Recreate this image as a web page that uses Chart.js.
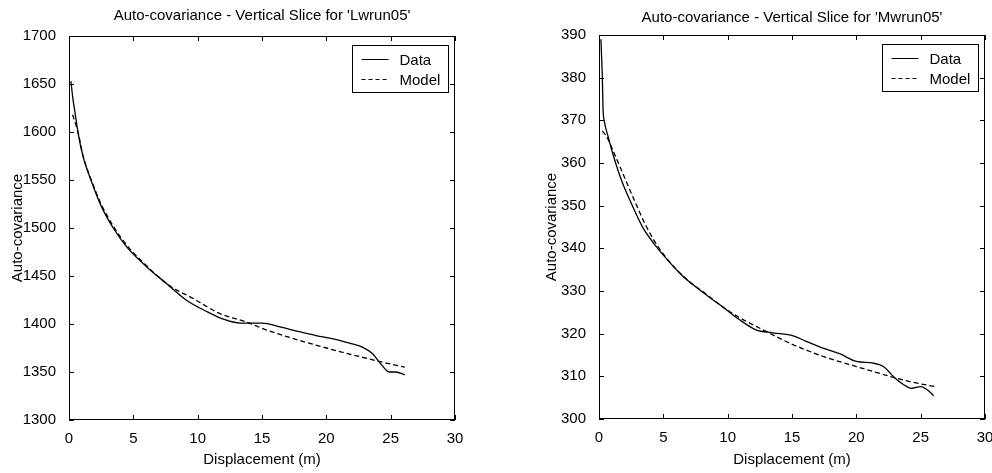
<!DOCTYPE html>
<html>
<head>
<meta charset="utf-8">
<script src="https://cdn.jsdelivr.net/npm/chart.js@4.4.1/dist/chart.umd.min.js"></script>
<style>
  html, body { margin: 0; padding: 0; background: #fff; }
  #wrap { position: relative; width: 992px; height: 473px; overflow: hidden; }
  .box { position: absolute; top: 0; width: 496px; height: 473px; }
  #left { left: 0; }
  #right { left: 496px; }
</style>
</head>
<body>
<div id="wrap">
  <div class="box" id="left"><canvas id="lw" width="496" height="473"></canvas></div>
  <div class="box" id="right"><canvas id="mw" width="496" height="473"></canvas></div>
</div>
<script>
// ---- values ----
const xTickValues = [0, 5, 10, 15, 20, 25, 30];

// 'Lwrun05'
const lwDataX = [0.15, 0.3, 0.47, 0.72, 1.1, 1.76, 2.53, 3.44, 4.5, 6, 7.5, 9.1, 10.7, 12, 13.3, 15, 16.4, 17.9, 19.2, 20.7, 21.8, 22.8, 23.6, 24.2, 24.9, 25.4, 26.1];
const lwDataY = [1653, 1635, 1620, 1598, 1574, 1548, 1522, 1500, 1480, 1460, 1443, 1425, 1413, 1405, 1401, 1401, 1397, 1392, 1388, 1384, 1380, 1376, 1369, 1359, 1350, 1350, 1347];
const lwModelX = [0.28, 0.5, 0.75, 1.1, 1.76, 2.53, 3.44, 4.5, 6, 7.8, 9.6, 11.7, 13.8, 15.3, 17.4, 20, 22.6, 24.1, 26.1];
const lwModelY = [1618, 1609, 1597, 1575, 1549, 1524, 1502, 1482, 1461, 1440, 1427, 1411, 1402, 1394, 1385, 1375, 1366, 1361, 1355];
const lwYTicks = [1300, 1350, 1400, 1450, 1500, 1550, 1600, 1650, 1700];

// 'Mwrun05'
const mwDataX = [0.15, 0.2, 0.26, 0.31, 0.44, 0.7, 1.09, 1.74, 2.5, 3.4, 4.3, 5, 6.5, 8.3, 9.9, 10.9, 12.2, 13.5, 15.1, 16.1, 17.4, 18.7, 20, 21.3, 22.1, 23, 23.5, 24.3, 25, 25.8, 26];
const mwDataY = [389, 385, 380, 373, 369.4, 366.3, 362, 356, 350.6, 344.9, 341, 338.4, 333.5, 329.2, 325.6, 323.3, 320.9, 320.2, 319.5, 318.2, 316.6, 315.3, 313.5, 313.1, 312.3, 309.6, 308.4, 307.2, 307.6, 306.1, 305.4];
const mwModelX = [0.26, 0.57, 1.22, 2, 2.9, 3.68, 4.7, 6.5, 8.3, 9.9, 10.9, 12.75, 14.8, 17.4, 20, 22.6, 24.1, 26.1];
const mwModelY = [367.5, 366.3, 362, 356.5, 350.2, 345.1, 339.9, 333.6, 329.3, 325.7, 323.8, 320.9, 317.8, 314.7, 312.3, 310, 308.8, 307.6];
const mwYTicks = [300, 310, 320, 330, 340, 350, 360, 370, 380, 390];

const seriesLabels = ['Data', 'Model'];

Chart.defaults.font.family = "'Liberation Sans', Arial, Helvetica, sans-serif";
Chart.defaults.font.size = 15;
Chart.defaults.color = '#000';

const toPoints = (xs, ys) => xs.map((x, i) => ({ x: x, y: ys[i] }));

// matlab style box: frame, inward ticks on all sides, boxed legend
const framePlugin = {
  id: 'frame',
  afterDatasetsDraw(chart) {
    const { ctx, chartArea: a, scales: { x, y } } = chart;
    const len = 5;
    ctx.save();
    ctx.strokeStyle = '#000';
    ctx.lineWidth = 1;
    ctx.setLineDash([]);
    ctx.strokeRect(a.left + 0.5, a.top + 0.5, a.right - a.left - 1, a.bottom - a.top - 1);
    ctx.beginPath();
    x.ticks.forEach(t => {
      const px = Math.round(x.getPixelForValue(t.value)) + 0.5;
      ctx.moveTo(px, a.bottom); ctx.lineTo(px, a.bottom - len);
      ctx.moveTo(px, a.top); ctx.lineTo(px, a.top + len);
    });
    y.ticks.forEach(t => {
      const py = Math.round(y.getPixelForValue(t.value)) + 0.5;
      ctx.moveTo(a.left, py); ctx.lineTo(a.left + len, py);
      ctx.moveTo(a.right, py); ctx.lineTo(a.right - len, py);
    });
    ctx.stroke();

    // legend
    const w = 96, h = 47;
    const bx = Math.round(a.right - 7 - w) + 0.5;
    const by = Math.round(a.top + 9) + 0.5;
    ctx.fillStyle = '#fff';
    ctx.fillRect(bx, by, w, h);
    ctx.strokeRect(bx, by, w, h);
    ctx.font = "15px 'Liberation Sans', Arial, sans-serif";
    ctx.fillStyle = '#000';
    ctx.textBaseline = 'middle';
    chart.data.datasets.forEach((ds, i) => {
      const ly = by + 14 + i * 20;
      ctx.beginPath();
      ctx.lineWidth = 1;
      ctx.setLineDash(ds.borderDash.length ? [4, 3] : []);
      ctx.moveTo(bx + 9, ly);
      ctx.lineTo(bx + 36, ly);
      ctx.stroke();
      ctx.fillText(ds.label, bx + 47, ly + 1);
    });
    ctx.restore();
  }
};

function makeChart(id, cfg) {
  return new Chart(document.getElementById(id), {
    type: 'line',
    data: {
      datasets: [
        {
          label: seriesLabels[0],
          data: toPoints(cfg.dataX, cfg.dataY),
          borderColor: '#000',
          borderWidth: 1.3,
          borderDash: [],
          pointRadius: 0,
          cubicInterpolationMode: 'monotone'
        },
        {
          label: seriesLabels[1],
          data: toPoints(cfg.modelX, cfg.modelY),
          borderColor: '#000',
          borderWidth: 1.3,
          borderDash: [5, 3],
          pointRadius: 0,
          cubicInterpolationMode: 'monotone'
        }
      ]
    },
    options: {
      responsive: false,
      animation: false,
      layout: { padding: { left: 0, right: cfg.padRight, top: 0, bottom: 0 } },
      plugins: {
        legend: { display: false },
        tooltip: { enabled: false },
        title: {
          display: true,
          text: cfg.title,
          fullSize: false,
          font: { size: 15, weight: 'normal' },
          padding: { top: cfg.titleTop, bottom: cfg.titleBottom }
        }
      },
      scales: {
        x: {
          type: 'linear',
          min: 0,
          max: 30,
          grid: { display: false },
          border: { display: false },
          afterBuildTicks: s => { s.ticks = xTickValues.map(v => ({ value: v })); },
          ticks: { padding: 2, maxRotation: 0, autoSkip: false, callback: v => String(v) },
          title: { display: true, text: 'Displacement (m)', padding: { top: 0, bottom: 4 } },
          afterFit: s => { s.height = cfg.xHeight; s.paddingLeft = 0; s.paddingRight = 0; }
        },
        y: {
          min: cfg.yTicks[0],
          max: cfg.yTicks[cfg.yTicks.length - 1],
          grid: { display: false },
          border: { display: false },
          afterBuildTicks: s => { s.ticks = cfg.yTicks.map(v => ({ value: v })); },
          ticks: { padding: 5, autoSkip: false, callback: v => String(v) },
          title: { display: true, text: 'Auto-covariance', padding: { top: cfg.yTitlePad, bottom: 0 } },
          afterFit: s => { s.width = cfg.yWidth; }
        }
      }
    },
    plugins: [framePlugin]
  });
}

makeChart('lw', {
  title: "Auto-covariance - Vertical Slice for 'Lwrun05'",
  dataX: lwDataX, dataY: lwDataY, modelX: lwModelX, modelY: lwModelY, yTicks: lwYTicks,
  padRight: 41, titleTop: 7, titleBottom: 11, xHeight: 53, yWidth: 69, yTitlePad: 8.5
});

makeChart('mw', {
  title: "Auto-covariance - Vertical Slice for 'Mwrun05'",
  dataX: mwDataX, dataY: mwDataY, modelX: mwModelX, modelY: mwModelY, yTicks: mwYTicks,
  padRight: 7, titleTop: 9, titleBottom: 8, xHeight: 54, yWidth: 103, yTitlePad: 47
});
</script>
</body>
</html>
